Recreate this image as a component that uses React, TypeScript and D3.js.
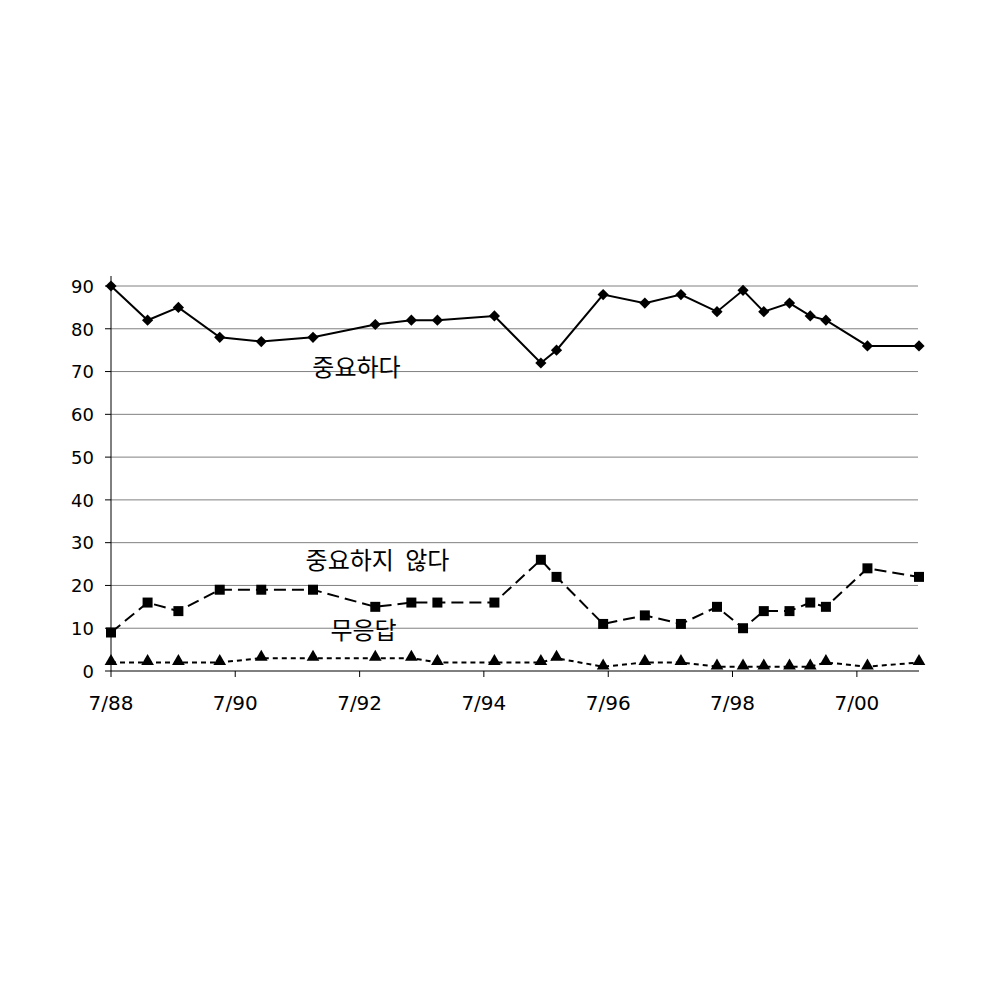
import React from "react";
import * as d3 from "d3";

const dates = ["1988-07","1989-02","1989-08","1990-04","1990-12","1991-10","1992-10","1993-05","1993-10","1994-09","1995-06","1995-09","1996-06","1997-02","1997-09","1998-04","1998-09","1999-01","1999-06","1999-10","2000-01","2000-09","2001-07"];
const important = [90,82,85,78,77,78,81,82,82,83,72,75,88,86,88,84,89,84,86,83,82,76,76];
const notImportant = [9,16,14,19,19,19,15,16,16,16,26,22,11,13,11,15,10,14,14,16,15,24,22];
const noAnswer = [2,2,2,2,3,3,3,3,2,2,2,3,1,2,2,1,1,1,1,1,2,1,2];
const yTicks = [0,10,20,30,40,50,60,70,80,90];
const xTickDates = ["1988-07","1990-07","1992-07","1994-07","1996-07","1998-07","2000-07"];
const seriesLabels = ["중요하다","중요하지 않다","무응답"];

const parse = (s: string) => { const [y, m] = s.split("-").map(Number); return new Date(y, m - 1, 1); };
const fmt = (d: Date) => `${d.getMonth() + 1}/${String(d.getFullYear()).slice(2)}`;

export default function App() {
  const x = d3.scaleTime().domain([parse("1988-07"), parse("2001-07")]).range([111, 919]);
  const y = d3.scaleLinear().domain([0, 90]).range([671, 286]);
  const pts = (vals: number[]) => vals.map((v, i) => [x(parse(dates[i])), y(v)] as [number, number]);
  const line = d3.line();
  const imp = pts(important), ni = pts(notImportant), na = pts(noAnswer);
  const diamond = d3.symbol().type(d3.symbolDiamond2).size(80)()!;
  const square = d3.symbol().type(d3.symbolSquare).size(100)()!;
  const tri = d3.symbol().type(d3.symbolTriangle).size(70)()!;
  const font = "DejaVu Sans, Verdana, sans-serif";
  const kfont = "'Noto Sans CJK KR', sans-serif";
  return (
    <svg width={1000} height={1000} style={{ position: "absolute", left: 0, top: 0, background: "#fff" }}>
      <rect width={1000} height={1000} fill="#fff" />
      {yTicks.filter(t => t > 0).map(t => (
        <line key={t} x1={111} x2={918} y1={y(t)} y2={y(t)} stroke="#808080" strokeWidth={1} />
      ))}
      <line x1={111} x2={111} y1={276} y2={671} stroke="#000" strokeWidth={1} />
      <line x1={111} x2={919} y1={671} y2={671} stroke="#000" strokeWidth={1} />
      {yTicks.map(t => (
        <g key={t}>
          <line x1={105} x2={111} y1={y(t)} y2={y(t)} stroke="#000" />
          <text x={94} y={y(t) + 6.8} textAnchor="end" fontFamily={font} fontSize={18} fill="#000">{t}</text>
        </g>
      ))}
      {xTickDates.map(s => {
        const xx = x(parse(s));
        return (
          <g key={s}>
            <line x1={xx} x2={xx} y1={671} y2={677} stroke="#000" />
            <text x={xx} y={710} textAnchor="middle" fontFamily={font} fontSize={20} fill="#000">{fmt(parse(s))}</text>
          </g>
        );
      })}
      <path d={line(imp)!} fill="none" stroke="#000" strokeWidth={2} />
      <path d={line(ni)!} fill="none" stroke="#000" strokeWidth={2} strokeDasharray="12,6" />
      <path d={line(na)!} fill="none" stroke="#000" strokeWidth={2} strokeDasharray="5,4" />
      {imp.map((p, i) => <path key={"a" + i} d={diamond} transform={`translate(${p[0]},${p[1]})`} fill="#000" />)}
      {ni.map((p, i) => <path key={"b" + i} d={square} transform={`translate(${p[0]},${p[1]})`} fill="#000" />)}
      {na.map((p, i) => <path key={"c" + i} d={tri} transform={`translate(${p[0]},${p[1] - 1})`} fill="#000" />)}
      <text x={356.5} y={376} textAnchor="middle" fontFamily={kfont} fontSize={24} fill="#000">{seriesLabels[0]}</text>
      <text x={377.5} y={569} textAnchor="middle" fontFamily={kfont} fontSize={24} wordSpacing={6} fill="#000">{seriesLabels[1]}</text>
      <text x={363.5} y={639} textAnchor="middle" fontFamily={kfont} fontSize={24} fill="#000">{seriesLabels[2]}</text>
    </svg>
  );
}
